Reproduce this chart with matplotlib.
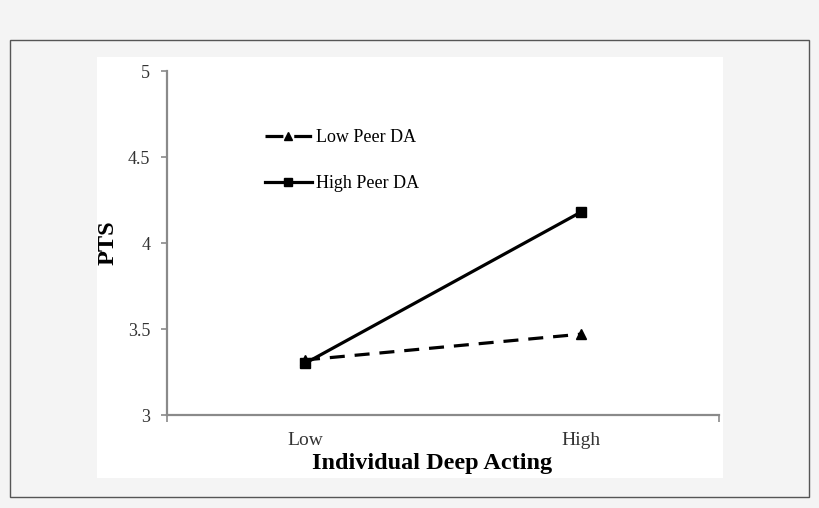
import numpy as np
import matplotlib.pyplot as plt
from matplotlib.patches import Rectangle
from matplotlib.lines import Line2D

# values
categories = ["Low", "High"]
low_peer_da = [3.32, 3.47]
high_peer_da = [3.30, 4.18]
y_ticks = [3, 3.5, 4, 4.5, 5]
y_tick_labels = ["3", "3.5", "4", "4.5", "5"]

plt.rcParams['font.family'] = ['Liberation Serif', 'DejaVu Serif']

W, H = 820, 508
fig = plt.figure(figsize=(W / 100, H / 100), dpi=100, facecolor="#f4f4f4")

# outer frame and white plot panel
fig.patches.append(Rectangle((10 / W, 1 - 497 / H), 799 / W, 457 / H, transform=fig.transFigure,
                             facecolor="none", edgecolor="#555555", lw=1.0, zorder=-10))
fig.patches.append(Rectangle((97 / W, 1 - 478 / H), 626 / W, 421 / H, transform=fig.transFigure,
                             facecolor="white", edgecolor="none", zorder=-10))

ax = fig.add_axes([167 / W, 1 - 415 / H, 552 / W, 344 / H])
ax.set_facecolor("none")

x = np.arange(len(categories))
ax.plot(x, low_peer_da, color="black", lw=2.3, ls=(0, (4.7, 3.1)), marker="^", ms=7)
ax.plot(x, high_peer_da, color="black", lw=2.3, marker="s", ms=7)

ax.set_xlim(-0.5, 1.5)
ax.set_ylim(3, 5)
ax.set_yticks(y_ticks)
ax.set_yticklabels(y_tick_labels)
ax.set_xticks([-0.5, 1.5])
ax.set_xticklabels([])
ax.set_xticks(x, minor=True)
ax.set_xticklabels(categories, minor=True)

for s in ["top", "right"]:
    ax.spines[s].set_visible(False)
for s in ["left", "bottom"]:
    ax.spines[s].set_color("#8a8a8a")
    ax.spines[s].set_linewidth(1.6)

ax.tick_params(axis="y", length=4, width=1.2, color="#8a8a8a", pad=8, labelsize=13, labelcolor="#333333")
ax.tick_params(axis="x", which="major", length=5, width=1.2, color="#8a8a8a", direction="out")
ax.tick_params(axis="x", which="minor", length=0, pad=12, labelsize=14, labelcolor="#333333")

fig.text(108 / W, 1 - 243 / H, "PTS", rotation=90, fontsize=17.5, fontweight="bold",
         ha="center", va="center")
fig.text(432 / W, 1 - 464 / H, "Individual Deep Acting", fontsize=17.5, fontweight="bold",
         ha="center", va="center")

# legend proxies so the dashed handle shows dash - marker - dash
handles = [
    Line2D([], [], color="black", lw=2.3, ls=(0, (5.6, 3.4)), marker="^", ms=6),
    Line2D([], [], color="black", lw=2.3, marker="s", ms=6),
]
ax.legend(handles, ["Low Peer DA", "High Peer DA"], loc="upper left",
          bbox_to_anchor=(265 / W, 1 - 129 / H), bbox_transform=fig.transFigure,
          frameon=False, fontsize=13, handlelength=2.6, handletextpad=0.25, labelspacing=1.6,
          borderpad=0, borderaxespad=0)

fig.savefig("out.png", dpi=100, facecolor=fig.get_facecolor())
